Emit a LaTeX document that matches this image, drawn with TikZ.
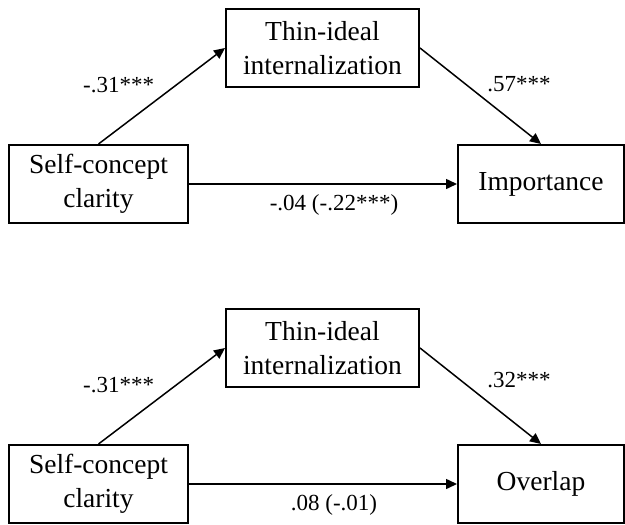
\documentclass[tikz,border=0pt]{standalone}
\usepackage{fontspec}
\setmainfont{Liberation Serif}
\usetikzlibrary{arrows.meta}

\tikzset{
	varbox/.style={draw=black, line width=1pt, align=center, inner sep=0pt, minimum height=39pt, font=\fontsize{13.75}{17}\selectfont},
	path/.style={black, line width=0.75pt, -{Triangle[length=5.5pt, width=5pt]}},
	coef/.style={font=\fontsize{11.5}{14}\selectfont, inner sep=2pt}
}

\begin{document}
\begin{tikzpicture}[x=0.5pt, y=-0.5pt]
\useasboundingbox (0,0) rectangle (625,524);
% top model
\node[varbox, minimum width=96.5pt](thinA) at (322.5,48){Thin-ideal\\internalization};
\node[varbox, minimum width=89.5pt](sccA) at (98.5,184){Self-concept\\clarity};
\node[varbox, minimum width=83pt](imp) at (541,184){Importance};
\draw[path](sccA.north)--(thinA.west)node[coef, midway, above left, xshift=-1.5pt, yshift=-1pt](aA){-.31***};
\draw[path](thinA.east)--(imp.north)node[coef, midway, above right, xshift=1pt, yshift=-0.5pt](bA){.57***};
\draw[path](sccA.east)--(imp.west)node[coef, midway, below, xshift=5.5pt, yshift=-3pt](cA){-.04 (-.22***)};
% bottom model
\node[varbox, minimum width=96.5pt](thinB) at (322.5,348){Thin-ideal\\internalization};
\node[varbox, minimum width=89.5pt](sccB) at (98.5,484){Self-concept\\clarity};
\node[varbox, minimum width=83pt](ovl) at (541,484){Overlap};
\draw[path](sccB.north)--(thinB.west)node[coef, midway, above left, xshift=-1.5pt, yshift=-1pt](aB){-.31***};
\draw[path](thinB.east)--(ovl.north)node[coef, midway, above right, xshift=1pt, yshift=1.5pt](bB){.32***};
\draw[path](sccB.east)--(ovl.west)node[coef, midway, below, xshift=5.5pt, yshift=-3pt](cB){.08 (-.01)};
\end{tikzpicture}
\end{document}
